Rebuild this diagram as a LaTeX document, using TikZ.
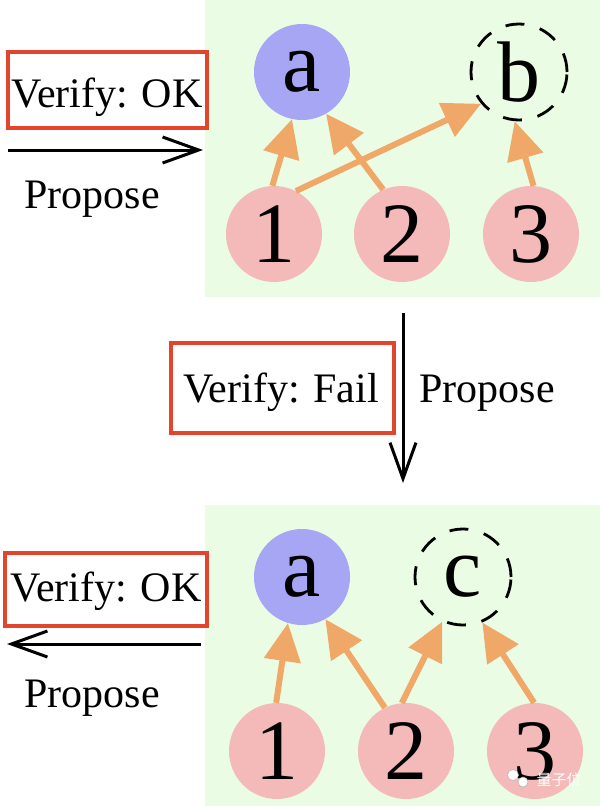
\documentclass[tikz,border=0pt]{standalone}
\usepackage{fontspec}
\setmainfont{Liberation Serif}
\newfontfamily\cjkfont{Noto Sans CJK SC}
\usetikzlibrary{arrows.meta}
\definecolor{panelgreen}{RGB}{234,252,228}
\definecolor{nodeblue}{RGB}{166,166,245}
\definecolor{nodepink}{RGB}{244,186,186}
\definecolor{arroworange}{RGB}{240,168,104}
\definecolor{boxred}{RGB}{226,69,46}
\tikzset{
  panel/.style={fill=panelgreen, draw=none},
  vnode/.style={circle, minimum size=96pt, inner sep=0pt, font=\fontsize{86}{86}\selectfont},
  goal/.style={vnode, fill=nodeblue},
  prem/.style={vnode, fill=nodepink},
  cand/.style={vnode, draw=black, line width=2.8pt, dash pattern=on 19pt off 16pt},
  dep/.style={draw=arroworange, line width=6pt, -{Triangle[length=38pt, width=36pt]}},
  redbox/.style={draw=boxred, line width=4pt, inner sep=0pt},
  lbl/.style={font=\fontsize{42}{42}\selectfont, inner sep=0pt, anchor=base},
  flow/.style={draw=black, line width=3pt, -{Straight Barb[length=36pt, width=26pt, line width=3pt]}}
}
\begin{document}
\begin{tikzpicture}[x=1pt, y=-1pt]
\useasboundingbox (0,0) rectangle (600,806);
% panels
\fill[panel] (205,0) rectangle (600,297);
\fill[panel] (205,505) rectangle (600,806);

% ---------- top panel ----------
\node[goal] (ta) at (302,72) {a};
\node[cand] (tb) at (519,72) {b};
\node[prem] (t1) at (274,234) {1};
\node[prem] (t2) at (402,234) {2};
\node[prem] (t3) at (531,234) {3};
\draw[dep] (t1.92) -- (ta.258);
\draw[dep] (t2.113) -- (ta.300);
\draw[dep] (t1.63) -- (tb.220);
\draw[dep] (t3.87) -- (tb.265);

\node[redbox, minimum width=199pt, minimum height=76pt] (okbox1) at (107.5,90) {};
\node[lbl] (oktext1) at (107,107) {Verify: OK};
\coordinate (h1s) at (8,150);
\coordinate (h1e) at (203,150);
\draw[flow] (h1s) -- (h1e);
\node[lbl] (prop1) at (92,208) {Propose};

% ---------- middle ----------
\coordinate (vs) at (403,313);
\coordinate (ve) at (403,483);
\draw[flow] (vs) -- (ve);
\node[redbox, minimum width=223pt, minimum height=90pt] (failbox) at (282.5,388) {};
\node[lbl] (failtext) at (281,402) {Verify: Fail};
\node[lbl] (prop2) at (487,402) {Propose};

% ---------- bottom panel ----------
\node[goal] (ba) at (302,577) {a};
\node[cand] (bc) at (463,577) {c};
\node[prem] (b1) at (277,751) {1};
\node[prem] (b2) at (406,751) {2};
\node[prem] (b3) at (535,751) {3};
\draw[dep] (b1.91) -- (ba.253);
\draw[dep] (b2.116) -- (ba.299);
\draw[dep] (b2.95) -- (bc.245);
\draw[dep] (b3.91) -- (bc.293);

\node[redbox, minimum width=202pt, minimum height=73pt] (okbox2) at (106,589.5) {};
\node[lbl] (oktext2) at (106,601) {Verify: OK};
\coordinate (h2s) at (201,644);
\coordinate (h2e) at (7,644);
\draw[flow] (h2s) -- (h2e);
\node[lbl] (prop3) at (92,707) {Propose};

% watermark
\node[circle, fill=white, draw=gray!60, line width=0.5pt, minimum size=11pt, inner sep=0pt] (wc1) at (513,775) {};
\node[circle, fill=white, draw=gray!60, line width=0.5pt, minimum size=10pt, inner sep=0pt] (wc2) at (523,782) {};
\node[font=\cjkfont\fontsize{15}{15}\selectfont, text=white, inner sep=0pt] (wm) at (559,780) {量子位};
\end{tikzpicture}
\end{document}
